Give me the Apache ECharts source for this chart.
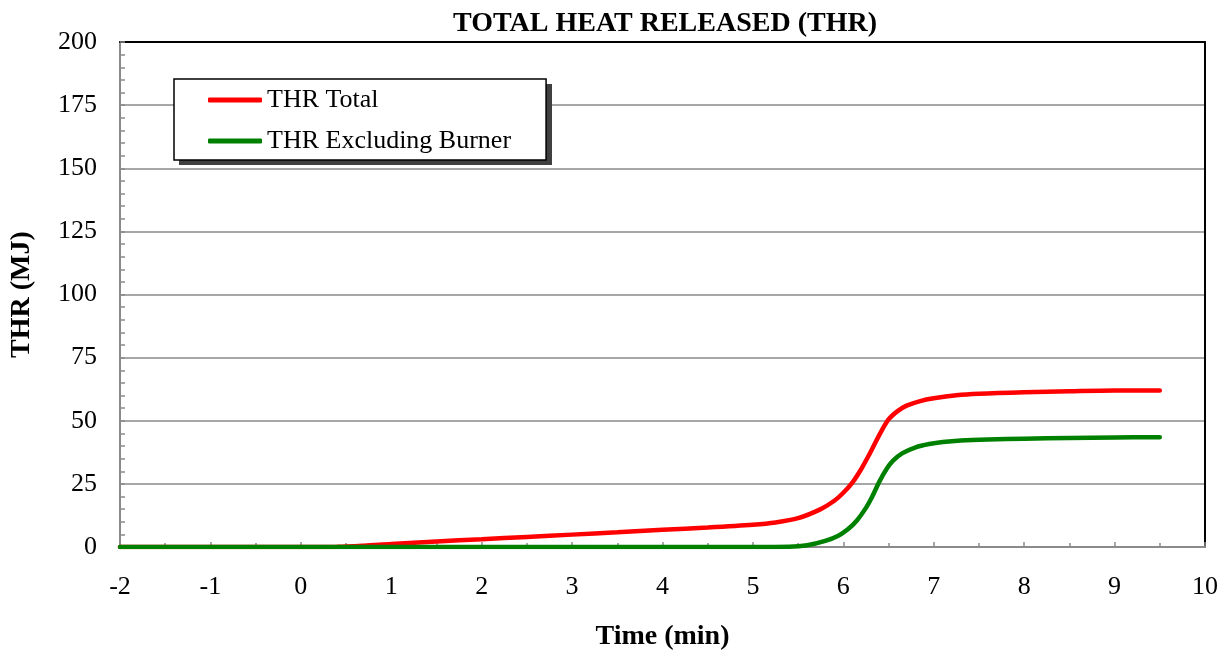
<!DOCTYPE html>
<html>
<head>
<meta charset="utf-8">
<script src="https://cdn.jsdelivr.net/npm/echarts@6/dist/echarts.min.js"></script>
<style>html,body{margin:0;padding:0;background:#fff}#c{width:1231px;height:656px}</style>
</head>
<body>
<div id="c"></div>
<script>
var xTicks = [-2, -1, 0, 1, 2, 3, 4, 5, 6, 7, 8, 9, 10];
var thrTotal = [
  [-2, 0], [-1, 0], [0, 0], [0.4, 0.05], [0.7, 0.5], [1, 1.2], [1.5, 2.2], [2, 3.1], [2.5, 4.0],
  [3, 4.9], [3.5, 5.8], [4, 6.8], [4.5, 7.7], [5, 8.8], [5.25, 9.7], [5.5, 11.4], [5.75, 15],
  [5.9, 18.3], [6.0, 21.5], [6.1, 25.5], [6.2, 31], [6.3, 37.5], [6.4, 44.5], [6.5, 50.5],
  [6.6, 53.8], [6.7, 56], [6.85, 57.8], [7.0, 58.9], [7.25, 60.1], [7.5, 60.7], [8, 61.3],
  [8.5, 61.7], [9, 62], [9.5, 62]
];
var thrExclBurner = [
  [-2, 0], [0, 0], [2, 0], [4, 0], [5, 0], [5.4, 0.1], [5.6, 0.7], [5.8, 2.4], [5.95, 4.6],
  [6.05, 7], [6.15, 10.5], [6.25, 15.5], [6.32, 20], [6.4, 26], [6.48, 31], [6.55, 34.2],
  [6.65, 37.1], [6.8, 39.5], [6.95, 40.8], [7.1, 41.6], [7.3, 42.2], [7.6, 42.6], [8, 42.9],
  [8.5, 43.2], [9, 43.4], [9.5, 43.5]
];
var seriesNames = ['THR Total', 'THR Excluding Burner'];
var seriesColors = ['#ff0000', '#008000'];

var font = 'Liberation Serif, Times New Roman, serif';
var gray = '#8a8a8a';
var chart = echarts.init(document.getElementById('c'));
chart.setOption({
  animation: false,
  backgroundColor: '#fff',
  title: {
    text: 'TOTAL HEAT RELEASED (THR)',
    left: 453, top: 10, padding: 0,
    textStyle: { fontFamily: font, fontSize: 28, fontWeight: 'bold', color: '#000' }
  },
  graphic: [{
    type: 'rect', z: 1, left: 179, top: 84,
    shape: { width: 373, height: 81 },
    style: { fill: '#404040' }
  }],
  legend: {
    orient: 'vertical',
    left: 174, top: 79, z: 10,
    padding: [6, 35, 4, 34],
    itemGap: 11,
    icon: 'roundRect',
    itemWidth: 54, itemHeight: 5,
    backgroundColor: '#fff',
    borderColor: '#000', borderWidth: 1.5,
    textStyle: { fontFamily: font, fontSize: 26, color: '#000', lineHeight: 30 },
    data: seriesNames
  },
  grid: { left: 120, right: 26, top: 42, bottom: 108, containLabel: false },
  xAxis: [{
    type: 'value', min: xTicks[0], max: xTicks[xTicks.length - 1], interval: 1,
    name: 'Time (min)', nameLocation: 'middle', nameGap: 76,
    nameTextStyle: { fontFamily: font, fontSize: 28, fontWeight: 'bold', color: '#000' },
    axisLine: { show: true, onZero: false, lineStyle: { color: gray, width: 2 } },
    axisTick: { show: true, inside: true, length: 5, lineStyle: { color: gray, width: 1.5 } },
    minorTick: { show: true, splitNumber: 2, length: 4, lineStyle: { color: gray, width: 1.5 } },
    axisLabel: { fontFamily: font, fontSize: 26, color: '#000', margin: 27 },
    splitLine: { show: false }
  }, {
    type: 'value', position: 'top', min: xTicks[0], max: xTicks[xTicks.length - 1],
    axisLine: { show: true, onZero: false, lineStyle: { color: '#000', width: 2 } },
    axisTick: { show: false }, axisLabel: { show: false }, splitLine: { show: false }
  }],
  yAxis: [{
    type: 'value', min: 0, max: 200, interval: 25,
    name: 'THR (MJ)', nameLocation: 'middle', nameGap: 84,
    nameTextStyle: { fontFamily: font, fontSize: 28, fontWeight: 'bold', color: '#000' },
    axisLine: { show: true, onZero: false, lineStyle: { color: gray, width: 2 } },
    axisTick: { show: true, inside: true, length: 5, lineStyle: { color: gray, width: 1.5 } },
    minorTick: { show: true, splitNumber: 5, length: 5, lineStyle: { color: gray, width: 1.5 } },
    axisLabel: { fontFamily: font, fontSize: 26, color: '#000', margin: 23 },
    splitLine: { show: true, lineStyle: { color: gray, width: 1.5 } }
  }, {
    type: 'value', position: 'right', min: 0, max: 200,
    axisLine: { show: true, onZero: false, lineStyle: { color: '#000', width: 2 } },
    axisTick: { show: false }, axisLabel: { show: false }, splitLine: { show: false }
  }],
  series: [{
    name: seriesNames[0], type: 'line', data: thrTotal, symbol: 'none',
    smooth: 0.3, z: 3,
    color: seriesColors[0],
    lineStyle: { color: seriesColors[0], width: 4.5, cap: 'round' }
  }, {
    name: seriesNames[1], type: 'line', data: thrExclBurner, symbol: 'none',
    smooth: 0.3, z: 4,
    color: seriesColors[1],
    lineStyle: { color: seriesColors[1], width: 4.5, cap: 'round' }
  }]
});
</script>
</body>
</html>
